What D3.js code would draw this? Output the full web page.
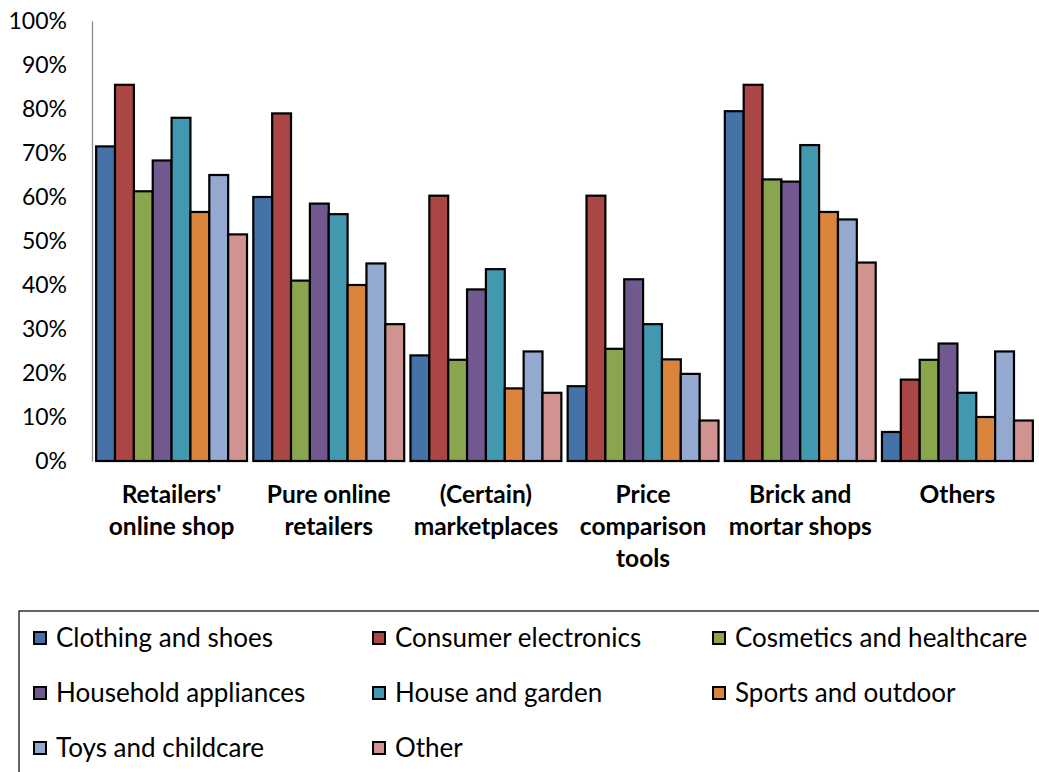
<!DOCTYPE html>
<html>
<head>
<meta charset="utf-8">
<script src="https://cdn.jsdelivr.net/npm/d3@7"></script>
<style>
  body { margin: 0; background: #fff; }
  svg { display: block; }
  text { font-family: Lato, "Open Sans", sans-serif; fill: #000; }
</style>
</head>
<body>
<div id="chart"></div>
<script>
// data (share of respondents, %)
const categories = [
  ["Retailers'", "online shop"],
  ["Pure online", "retailers"],
  ["(Certain)", "marketplaces"],
  ["Price", "comparison", "tools"],
  ["Brick and", "mortar shops"],
  ["Others"]
];
const seriesNames = ["Clothing and shoes", "Consumer electronics", "Cosmetics and healthcare",
  "Household appliances", "House and garden", "Sports and outdoor", "Toys and childcare", "Other"];
const clothing    = [71.5, 60, 24, 17, 79.5, 6.6];
const electronics = [85.5, 79, 60.3, 60.3, 85.5, 18.5];
const cosmetics   = [61.3, 41, 23, 25.5, 64, 23];
const household   = [68.3, 58.5, 39, 41.3, 63.5, 26.7];
const garden      = [78, 56.1, 43.6, 31.1, 71.8, 15.5];
const sports      = [56.6, 40, 16.5, 23.1, 56.6, 10];
const toys        = [65, 44.9, 24.9, 19.8, 54.9, 24.9];
const other       = [51.5, 31.1, 15.5, 9.2, 45.1, 9.2];
const yTicks = [0, 10, 20, 30, 40, 50, 60, 70, 80, 90, 100];

const series = [clothing, electronics, cosmetics, household, garden, sports, toys, other];
const colours = ["#4572A7", "#AA4643", "#89A54E", "#71588F", "#4198AF", "#DB843D", "#93A9CF", "#D19392"];

const W = 1039, H = 772;
const margin = {top: 21, left: 93, right: 3, bottom: 311};
const plotBottom = H - margin.bottom; // 461

const svg = d3.select("#chart").append("svg")
  .attr("width", W)
  .attr("height", H);

const x = d3.scaleBand()
  .domain(d3.range(categories.length))
  .range([margin.left, W - margin.right])
  .paddingInner(0.04)
  .paddingOuter(0.02);

const xs = d3.scaleBand()
  .domain(d3.range(series.length))
  .range([0, x.bandwidth()]);

const y = d3.scaleLinear()
  .domain([0, 100])
  .range([plotBottom, margin.top]);

// y axis: plain gray line, labels only
const yAxis = svg.append("g")
  .attr("transform", `translate(${margin.left - 1},0)`)
  .call(d3.axisLeft(y).tickValues(yTicks).tickSize(0).tickPadding(25)
    .tickFormat(d => d + "%"));
yAxis.select(".domain").attr("stroke", "#8c8c8c").attr("stroke-width", 1.3);
yAxis.selectAll("text")
  .style("font-family", "Lato, 'Open Sans', sans-serif")
  .style("font-size", "23px")
  .attr("fill", "#000");

// bars
const groups = svg.append("g")
  .selectAll("g")
  .data(categories)
  .join("g")
  .attr("transform", (d, i) => `translate(${x(i)},0)`);

groups.selectAll("rect")
  .data((d, i) => series.map((s, k) => ({k: k, v: s[i]})))
  .join("rect")
  .attr("x", d => xs(d.k))
  .attr("width", xs.bandwidth())
  .attr("y", d => y(d.v))
  .attr("height", d => plotBottom - y(d.v))
  .attr("fill", d => colours[d.k])
  .attr("stroke", "#000")
  .attr("stroke-width", 2.2);

// category labels (bold, up to three lines)
groups.append("text")
  .attr("text-anchor", "middle")
  .style("font-size", "24.5px")
  .style("font-weight", "bold")
  .selectAll("tspan")
  .data(d => d)
  .join("tspan")
  .attr("x", x.bandwidth() / 2)
  .attr("y", (d, j) => 503 + j * 32)
  .text(d => d);

// legend
const legend = svg.append("g");
legend.append("rect")
  .attr("x", 19).attr("y", 611)
  .attr("width", W + 10).attr("height", 200)
  .attr("fill", "none")
  .attr("stroke", "#000")
  .attr("stroke-width", 1.2);

const colX = [33, 372, 712];
const rowY = [638, 693, 748];
const items = legend.selectAll("g.item")
  .data(seriesNames)
  .join("g")
  .attr("class", "item")
  .attr("transform", (d, i) => `translate(${colX[i % 3]},${rowY[Math.floor(i / 3)]})`);

items.append("rect")
  .attr("x", 1).attr("y", -6)
  .attr("width", 12).attr("height", 12)
  .attr("fill", (d, i) => colours[i])
  .attr("stroke", "#000")
  .attr("stroke-width", 2);

items.append("text")
  .attr("x", 23)
  .attr("y", 0)
  .attr("dy", "0.35em")
  .style("font-size", "26px")
  .text(d => d);
</script>
</body>
</html>
